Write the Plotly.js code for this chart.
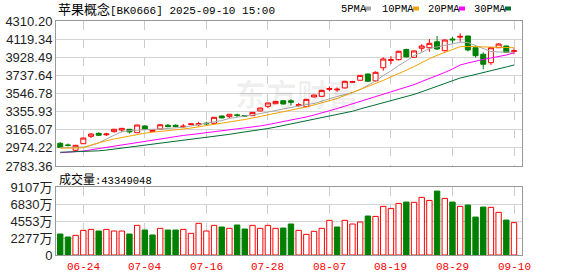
<!DOCTYPE html>
<html><head><meta charset="utf-8">
<script src="https://cdn.plot.ly/plotly-3.0.1.min.js"></script>
<style>html,body{margin:0;padding:0;background:#fff}#chart{width:578px;height:276px}</style>
</head><body><div id="chart"></div>
<script>
const dates = ['06-19','06-20','06-23','06-24','06-25','06-26','06-27','06-30','07-01','07-02','07-03','07-04','07-07','07-08','07-09','07-10','07-11','07-14','07-15','07-16','07-17','07-18','07-21','07-22','07-23','07-24','07-25','07-28','07-29','07-30','07-31','08-01','08-04','08-05','08-06','08-07','08-08','08-11','08-12','08-13','08-14','08-15','08-18','08-19','08-20','08-21','08-22','08-25','08-26','08-27','08-28','08-29','09-01','09-02','09-03','09-04','09-05','09-08','09-09','09-10'];
const openP  = [3022,3005,2949,3018,3096,3128,3112,3145,3162,3170,3134,3205,3148,3173,3212,3212,3196,3220,3218,3234,3233,3310,3303,3322,3315,3313,3363,3412,3439,3471,3470,3420,3408,3510,3517,3590,3585,3605,3665,3686,3752,3680,3818,3895,3903,4010,3928,4023,4029,4092,3997,4120,4140,4152,4029,3960,3871,4029,4047,3990];
const highP  = [3036,3020,3005,3080,3128,3136,3133,3175,3182,3172,3218,3212,3165,3222,3226,3222,3225,3228,3248,3250,3300,3315,3330,3335,3320,3350,3396,3450,3466,3475,3487,3447,3491,3533,3587,3622,3610,3680,3680,3740,3755,3780,3928,3940,3998,4020,3998,4065,4120,4152,4115,4145,4180,4155,4040,3980,4030,4075,4050,4023];
const lowP   = [2978,2990,2938,3015,3078,3100,3100,3135,3138,3125,3130,3162,3145,3170,3190,3190,3185,3216,3205,3215,3225,3285,3290,3300,3305,3310,3360,3392,3435,3430,3420,3408,3405,3508,3510,3570,3565,3600,3660,3683,3670,3670,3787,3857,3895,3925,3925,3987,3987,4005,3990,4075,4092,3990,3925,3802,3847,4025,3978,3960];
const closeP = [2980,3000,3001,3078,3120,3107,3120,3170,3180,3142,3215,3173,3160,3218,3198,3200,3202,3226,3228,3228,3296,3290,3328,3315,3310,3348,3394,3447,3464,3436,3455,3428,3485,3531,3580,3598,3592,3675,3672,3738,3675,3770,3910,3903,3991,3932,3995,4047,4075,4015,4110,4112,4148,4005,3945,3855,4029,4068,3981,3997];
const ma5  = [2976,2976,2976,2983,2999,3026,3068,3105,3145,3155,3162,3167,3170,3173,3179,3184,3191,3205,3218,3234,3249,3262,3284,3299,3310,3320,3336,3349,3368,3388,3400,3415,3431,3441,3468,3489,3515,3536,3557,3589,3631,3678,3736,3784,3842,3889,3947,3979,4021,4036,4054,4068,4086,4084,4052,4015,3989,3984,3982,3981];
const ma10 = [2970,2970,2971,2975,3004,3029,3049,3068,3084,3101,3116,3129,3139,3146,3153,3162,3173,3183,3195,3207,3219,3231,3244,3257,3273,3289,3305,3322,3339,3355,3371,3388,3405,3426,3447,3468,3494,3526,3557,3589,3620,3652,3684,3721,3754,3792,3830,3873,3913,3949,3979,4010,4040,4042,4041,4039,4039,4038,4034,4029];
const ma20 = [2923,2928,2936,2941,2954,2967,2981,2994,3005,3015,3026,3039,3053,3068,3081,3094,3105,3114,3124,3132,3141,3150,3158,3170,3180,3191,3205,3219,3234,3250,3267,3283,3300,3320,3341,3363,3388,3413,3438,3465,3491,3515,3539,3567,3594,3615,3640,3673,3703,3738,3768,3805,3847,3868,3889,3905,3921,3936,3952,3975];
const ma30 = [2928,2930,2932,2935,2939,2943,2951,2961,2971,2980,2990,3000,3011,3022,3033,3042,3053,3062,3072,3082,3094,3106,3117,3130,3141,3153,3166,3178,3193,3209,3226,3241,3258,3275,3291,3307,3324,3341,3360,3384,3405,3426,3447,3470,3492,3514,3537,3565,3594,3626,3657,3684,3710,3728,3746,3765,3784,3805,3826,3847];
// volume in 万 (10k shares)
const volume = [2810,2410,2630,3300,3430,3210,3430,3210,3210,2810,3970,3345,2680,3570,3345,3345,3430,2900,4240,3210,3970,3750,3570,4015,3480,3970,3570,3970,3570,3610,4150,3300,2765,3170,3570,4640,3750,4640,4150,4415,5220,5170,6510,6240,6910,7090,7050,7720,7310,8560,7580,7090,6510,6690,5080,6420,6380,5710,4680,4334.9048];
const volDir = ['d','d','u','u','u','d','u','u','u','d','u','d','d','u','d','d','u','u','u','u','u','d','u','d','d','u','u','u','u','d','d','u','u','u','u','u','d','u','u','u','d','u','u','u','u','d','u','u','u','d','u','d','u','d','d','d','u','u','d','u'];
const priceTicks = ['2783.36','2974.22','3165.07','3355.93','3546.78','3737.64','3928.49','4119.34','4310.20'];
const volTicks = ['0','2277万','4553万','6830万','9107万'];
const dateTicks = ['06-24','07-04','07-16','07-28','08-07','08-19','08-29','09-10'];
const maNames = ['5PMA','10PMA','20PMA','30PMA'];
const titleName = '苹果概念';
const titleCode = '[BK0666] 2025-09-10 15:00';
const lastVolume = '43349048';

const RED = '#ff0000', GREEN = '#008000';
const maColors = ['#a6a6a6','#f5a300','#ff00ff','#006e32'];
const L = 56, R = 522, T = 21, B = 255;
const px = x => (x - L) / (R - L);
const py = y => (B - y) / (B - T);

const traces = [];
traces.push({
  type: 'candlestick', x: dates, open: openP, high: highP, low: lowP, close: closeP,
  xaxis: 'x', yaxis: 'y', whiskerwidth: 0, hoverinfo: 'skip',
  increasing: {line: {color: RED, width: 1}, fillcolor: '#ffffff'},
  decreasing: {line: {color: GREEN, width: 1}, fillcolor: GREEN}
});
[ma5, ma10, ma20, ma30].forEach((m, k) => traces.push({
  type: 'scatter', mode: 'lines', x: dates, y: m, xaxis: 'x', yaxis: 'y',
  line: {color: maColors[k], width: 1}, hoverinfo: 'skip'
}));
traces.push({
  type: 'bar', x: dates, y: volume, xaxis: 'x2', yaxis: 'y2', hoverinfo: 'skip',
  marker: {color: volDir.map(d => d === 'u' ? '#ffffff' : GREEN),
           line: {color: volDir.map(d => d === 'u' ? RED : GREEN), width: 1}}
});

const xRange = [-0.55, 60.04];
const xCommon = {
  type: 'category', categoryorder: 'array', categoryarray: dates, range: xRange,
  tickvals: dateTicks, showticklabels: false, showgrid: true, gridcolor: '#cccccc', griddash: 'dash', gridwidth: 1,
  showline: true, mirror: true, linecolor: '#999999', linewidth: 1, ticks: '', zeroline: false,
  fixedrange: true
};
const layout = {
  width: 578, height: 276, margin: {l: L, r: 578 - R, t: T, b: 276 - B, pad: 0},
  paper_bgcolor: '#ffffff', plot_bgcolor: '#ffffff', showlegend: false,
  boxgap: 0.2, boxgroupgap: 0.19, bargap: 0.3,
  xaxis: Object.assign({}, xCommon, {anchor: 'y', rangeslider: {visible: false}}),
  xaxis2: Object.assign({}, xCommon, {anchor: 'y2'}),
  yaxis: {domain: [py(166), 1], anchor: 'x',
    range: [parseFloat(priceTicks[0]), parseFloat(priceTicks[priceTicks.length - 1])],
    tickvals: priceTicks.map(parseFloat), ticktext: priceTicks,
    showgrid: true, gridcolor: '#d4d4d4', gridwidth: 1, showline: true, mirror: true,
    linecolor: '#999999', zeroline: false, ticks: '', fixedrange: true,
    tickfont: {family: 'Liberation Sans, Arial', size: 13, color: '#1e1e1e'}},
  yaxis2: {domain: [0, py(187)], anchor: 'x2',
    range: [0, parseFloat(volTicks[volTicks.length - 1])],
    tickvals: volTicks.map(parseFloat), ticktext: volTicks,
    showgrid: true, gridcolor: '#d4d4d4', gridwidth: 1, showline: true, mirror: true,
    linecolor: '#999999', zeroline: false, ticks: '', fixedrange: true,
    tickfont: {family: 'Liberation Sans, Arial, Noto Sans CJK SC', size: 13, color: '#1e1e1e'}},
  annotations: [
    {xref: 'paper', yref: 'paper', x: px(297), y: py(92), xanchor: 'center', yanchor: 'middle',
     text: '东方财富', showarrow: false,
     font: {family: 'Noto Sans CJK SC', size: 31, color: 'rgba(0,0,0,0.06)', weight: 700}},
    {xref: 'paper', yref: 'paper', x: px(56), y: py(9), xanchor: 'left', yanchor: 'middle', showarrow: false,
     text: '<span style="font-family:Noto Sans CJK SC;font-size:13px">' + titleName + '</span>' + titleCode,
     font: {family: 'Liberation Mono, monospace', size: 11, color: '#000'}},
    {xref: 'paper', yref: 'paper', x: px(57), y: py(178), xanchor: 'left', yanchor: 'middle', showarrow: false,
     text: '<span style="font-family:Noto Sans CJK SC;font-size:12px">成交量</span>:' + lastVolume,
     font: {family: 'Liberation Mono, monospace', size: 10.5, color: '#000'}}
  ],
  shapes: []
};
dateTicks.forEach(d => layout.annotations.push({
  xref: 'x2', yref: 'paper', x: d, y: py(267), xanchor: 'center', yanchor: 'middle', showarrow: false,
  text: '<span style="color:rgb(255,0,0)">' + d + '</span>',
  font: {family: 'Liberation Mono, monospace', size: 11, color: 'rgb(255,0,0)'}
}));
const legTextX = [339, 380, 426, 472];
const legMarkX = [365, 413, 459, 505];
maNames.forEach((n, k) => {
  layout.annotations.push({xref: 'paper', yref: 'paper', x: px(legTextX[k]), y: py(9), xanchor: 'left', yanchor: 'middle',
    showarrow: false, text: n, font: {family: 'Liberation Mono, monospace', size: 10.5, color: '#000'}});
  layout.shapes.push({type: 'rect', xref: 'paper', yref: 'paper', x0: px(legMarkX[k]), x1: px(legMarkX[k] + 6),
    y0: py(10.5), y1: py(6.5), fillcolor: maColors[k], line: {width: 0}});
});
Plotly.newPlot('chart', traces, layout, {staticPlot: true, displayModeBar: false});
</script></body></html>
